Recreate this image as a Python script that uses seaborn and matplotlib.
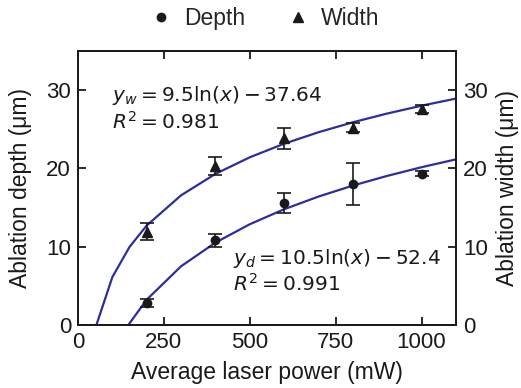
import numpy as np
import pandas as pd
import matplotlib
matplotlib.use("Agg")
import matplotlib.pyplot as plt
import seaborn as sns
from matplotlib.lines import Line2D

# measured data
power = [200, 400, 600, 800, 1000]
depth = [2.85, 10.8, 15.6, 18.0, 19.3]
depth_err = [0.5, 0.8, 1.3, 2.7, 0.3]
width = [11.9, 20.3, 23.8, 25.2, 27.6]
width_err = [1.1, 1.2, 1.4, 0.6, 0.5]

# log fits y = a ln(x) + b
fit_x = [50, 100, 150, 200, 300, 400, 500, 600, 700, 800, 900, 1000, 1100]
depth_fit = (10.5, -52.4)
width_fit = (9.5, -37.64)

sns.set_style("ticks")
plt.rcParams['font.family'] = ['Liberation Sans', 'DejaVu Sans']
plt.rcParams['mathtext.fontset'] = 'dejavusans'
plt.rcParams['axes.linewidth'] = 1.3

fig = plt.figure(figsize=(5.21, 3.88), dpi=100)
ax = fig.add_axes([0.1497, 0.1624, 0.7253, 0.7069])
line_col = '#2B2E9B'
ink = '#1a1a1a'

fx = np.array(fit_x, dtype=float)
fits = pd.DataFrame({
    'x': np.concatenate([fx, fx]),
    'y': np.concatenate([depth_fit[0] * np.log(fx) + depth_fit[1],
                         width_fit[0] * np.log(fx) + width_fit[1]]),
    'fit': ['d'] * len(fx) + ['w'] * len(fx),
})
sns.lineplot(data=fits, x='x', y='y', units='fit', estimator=None,
             color=line_col, lw=1.6, ax=ax, legend=False)

ax.errorbar(power, depth, yerr=depth_err, fmt='o', color=ink, ms=6,
            capsize=5, elinewidth=1.2, capthick=1.2, zorder=3)
ax.errorbar(power, width, yerr=width_err, fmt='^', color=ink, ms=7,
            capsize=5, elinewidth=1.2, capthick=1.2, zorder=3)

ax.set_xlim(0, 1100)
ax.set_ylim(0, 35)
ax.set_xticks([0, 250, 500, 750, 1000])
ax.set_yticks([0, 10, 20, 30])
ax.tick_params(direction='in', length=6, width=1.3, labelsize=16, top=True,
               colors=ink, pad=5)
ax.set_xlabel('Average laser power (mW)', fontsize=16.5, color=ink, labelpad=6)
ax.set_ylabel('Ablation depth (μm)', fontsize=16.5, color=ink, labelpad=10)

ax2 = ax.twinx()
ax2.set_ylim(0, 35)
ax2.set_yticks([0, 10, 20, 30])
ax2.tick_params(direction='in', length=6, width=1.3, labelsize=16,
                colors=ink, pad=5)
ax2.set_ylabel('Ablation width (μm)', fontsize=16.5, color=ink, labelpad=6)
for a in (ax, ax2):
    for s in a.spines.values():
        s.set_visible(True)
        s.set_color(ink)

ax.text(100, 27.6, '$y_w = 9.5\\ln(x) - 37.64$\n$R^2 = 0.981$', fontsize=14.5,
        va='center', ha='left', color=ink, linespacing=1.2)
ax.text(450, 6.9, '$y_d = 10.5\\ln(x) - 52.4$\n$R^2 = 0.991$', fontsize=14.5,
        va='center', ha='left', color=ink, linespacing=1.2)

handles = [Line2D([], [], ls='none', marker='o', color=ink, ms=6),
           Line2D([], [], ls='none', marker='^', color=ink, ms=7)]
fig.legend(handles, ['Depth', 'Width'], loc='upper center', ncol=2,
           bbox_to_anchor=(0.505, 1.035), frameon=False, fontsize=16.5,
           columnspacing=1.7, handletextpad=0.4, handlelength=1.2)

fig.savefig('out.png', dpi=100)
